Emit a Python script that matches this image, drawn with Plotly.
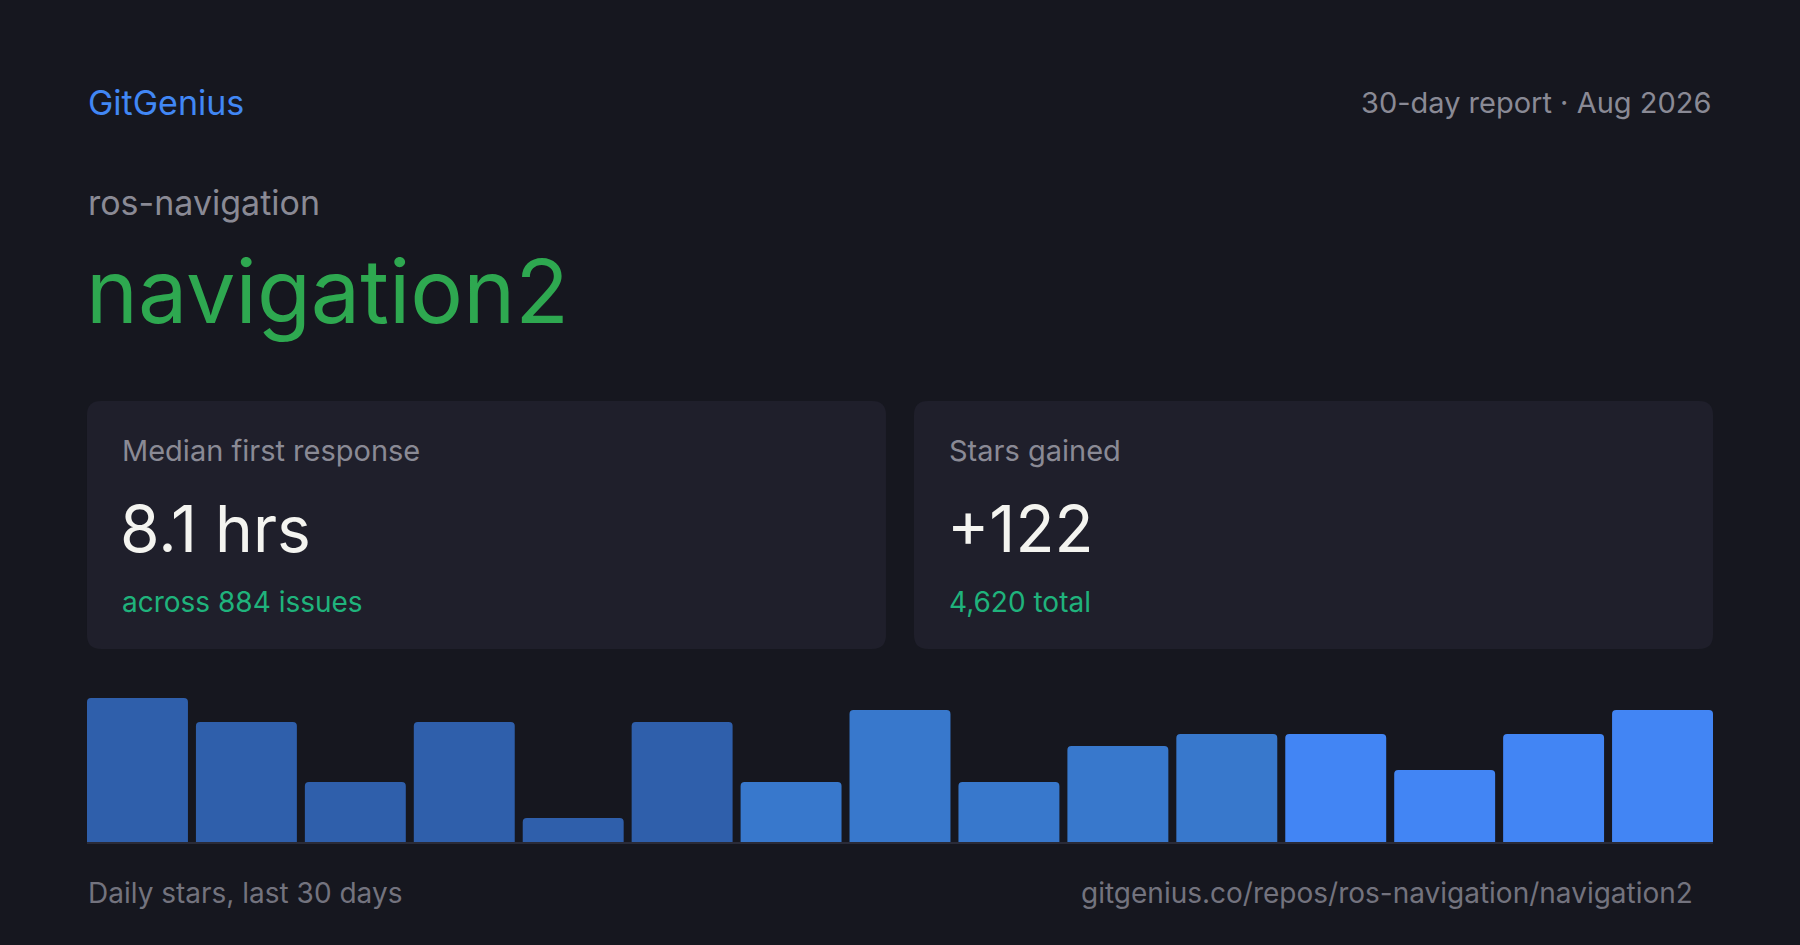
import plotly.graph_objects as go

W, H = 1800, 945

# data
periods = list(range(1, 16))
stars = [12, 10, 5, 10, 2, 10, 5, 11, 5, 8, 9, 9, 6, 9, 11]
bar_colors = ['#2f5fab'] * 6 + ['#3878cc'] * 5 + ['#4285f4'] * 4

brand = 'GitGenius'
report = '30-day report \u00b7 Aug 2026'
owner = 'ros-navigation'
repo = 'navigation2'
card_labels = ['Median first response', 'Stars gained']
card_values = ['8.1 hrs', '+122']
card_notes = ['across 884 issues', '4,620 total']
footer_left = 'Daily stars, last 30 days'
footer_right = 'gitgenius.co/repos/ros-navigation/navigation2'

BG = '#16171f'
CARD = '#1f1f2b'
FONT = 'Inter'


def px(x):
    return x / W


def py(y):
    return 1 - y / H


def rounded_rect(x0, y0, x1, y1, r):
    # path in paper coords, corners given in pixels
    p = [
        'M %f,%f' % (px(x0 + r), py(y0)),
        'L %f,%f' % (px(x1 - r), py(y0)),
        'Q %f,%f %f,%f' % (px(x1), py(y0), px(x1), py(y0 + r)),
        'L %f,%f' % (px(x1), py(y1 - r)),
        'Q %f,%f %f,%f' % (px(x1), py(y1), px(x1 - r), py(y1)),
        'L %f,%f' % (px(x0 + r), py(y1)),
        'Q %f,%f %f,%f' % (px(x0), py(y1), px(x0), py(y1 - r)),
        'L %f,%f' % (px(x0), py(y0 + r)),
        'Q %f,%f %f,%f' % (px(x0), py(y0), px(x0 + r), py(y0)),
        'Z',
    ]
    return ' '.join(p)


def label(x, y, text, size, color, anchor='left'):
    return dict(x=px(x), y=py(y), xref='paper', yref='paper', text=text,
                showarrow=False, xanchor=anchor, yanchor='middle',
                font=dict(family=FONT, size=size, color=color))


left, right = 87, 1713
base_y, top_y = 842, 698
half_gap = 4  # plotly puts half a gap outside the first/last bar

fig = go.Figure()
fig.add_trace(go.Bar(
    x=periods,
    y=stars,
    marker=dict(color=bar_colors, line=dict(width=0), cornerradius=4),
    hoverinfo='skip',
))

shapes = []
card_x = [(87, 886), (914, 1713)]
for x0, x1 in card_x:
    shapes.append(dict(type='path', xref='paper', yref='paper',
                       path=rounded_rect(x0, 401, x1, 649, 14),
                       fillcolor=CARD, line=dict(width=0), layer='below'))
shapes.append(dict(type='line', xref='paper', yref='paper',
                   x0=px(left), x1=px(right), y0=py(843), y1=py(843),
                   line=dict(color='#2a2b38', width=2)))

annotations = [
    label(86, 102, brand, 34, '#4187f5'),
    label(1713, 102, report, 29, '#8a8a95', 'right'),
    label(86, 203, owner, 34, '#8a8a95'),
    label(84, 291, repo, 88, '#2ea850'),
]
for i, (x0, x1) in enumerate(card_x):
    annotations.append(label(x0 + 33, 450, card_labels[i], 29, '#8a8a95'))
    annotations.append(label(x0 + 31, 528, card_values[i], 64, '#f4f4f0'))
    annotations.append(label(x0 + 33, 602, card_notes[i], 28, '#1fb37c'))
annotations.append(label(86, 893, footer_left, 28, '#73737e'))
annotations.append(label(1695, 893, footer_right, 28, '#73737e', 'right'))

fig.update_layout(
    width=W, height=H,
    margin=dict(l=0, r=0, t=0, b=0),
    paper_bgcolor=BG,
    plot_bgcolor='rgba(0,0,0,0)',
    showlegend=False,
    bargap=8 / 109,
    xaxis=dict(domain=[px(left - half_gap), px(right + half_gap)],
               range=[0.5, 15.5], visible=False, fixedrange=True),
    yaxis=dict(domain=[py(base_y), py(top_y)], range=[0, 12],
               visible=False, fixedrange=True),
    shapes=shapes,
    annotations=annotations,
)

fig.write_html('out.html', config={'displayModeBar': False},
               post_script="document.body.style.margin='0';"
                           "document.body.style.background='%s';" % BG)
